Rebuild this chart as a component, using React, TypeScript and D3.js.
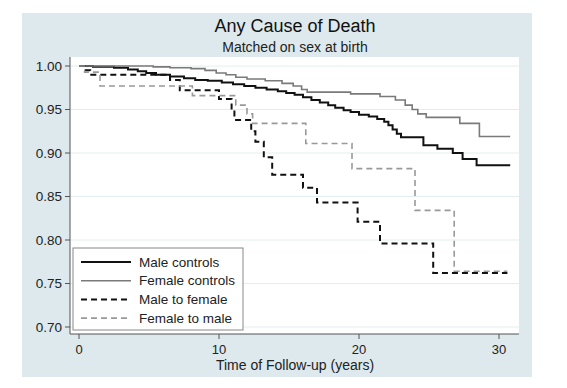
import React from 'react';
import * as d3 from 'd3';

// Kaplan-Meier steps: [years, survival]
const maleControls: [number, number][] = [
  [0, 1.0], [1.0, 0.999], [2.5, 0.998], [3.5, 0.996], [4.2, 0.994], [4.8, 0.992],
  [5.5, 0.99], [6.5, 0.988], [7.5, 0.986], [8.3, 0.984], [9.2, 0.983], [10.2, 0.981],
  [11.0, 0.979], [11.8, 0.977], [12.6, 0.975], [13.4, 0.973], [14.2, 0.971], [14.8, 0.969],
  [15.4, 0.967], [16.0, 0.964], [16.6, 0.961], [17.2, 0.958], [17.8, 0.955], [18.3, 0.952],
  [18.9, 0.949], [19.4, 0.947], [20.0, 0.944], [20.7, 0.942], [21.3, 0.939], [21.8, 0.936],
  [22.1, 0.932], [22.4, 0.927], [22.7, 0.922], [23.0, 0.918], [24.6, 0.909], [25.6, 0.905],
  [26.7, 0.9], [27.4, 0.893], [28.4, 0.886], [30.8, 0.886],
];
const femaleControls: [number, number][] = [
  [0, 1.0], [5.3, 0.999], [6.5, 0.998], [8.0, 0.997], [9.0, 0.995], [9.8, 0.992],
  [10.5, 0.99], [11.2, 0.987], [12.0, 0.985], [13.3, 0.983], [14.5, 0.98], [15.3, 0.977],
  [15.9, 0.973], [16.3, 0.97], [19.4, 0.968], [21.5, 0.965], [22.6, 0.961], [23.3, 0.955],
  [23.8, 0.95], [24.2, 0.945], [24.8, 0.941], [27.2, 0.934], [28.6, 0.919], [30.8, 0.919],
];
const maleToFemale: [number, number][] = [
  [0, 1.0], [0.4, 0.995], [0.8, 0.99], [6.5, 0.984], [7.2, 0.972], [10.0, 0.962],
  [10.9, 0.95], [11.1, 0.938], [12.3, 0.925], [12.6, 0.913], [13.2, 0.895], [13.8, 0.875],
  [16.0, 0.86], [17.0, 0.843], [19.9, 0.821], [21.5, 0.796], [25.3, 0.762], [30.6, 0.762],
];
const femaleToMale: [number, number][] = [
  [0, 1.0], [0.4, 0.993], [1.5, 0.977], [8.1, 0.966], [11.2, 0.955], [12.0, 0.945],
  [12.4, 0.934], [16.2, 0.911], [19.5, 0.882], [24.0, 0.834], [26.8, 0.764], [30.6, 0.764],
];

const xTicks = [0, 10, 20, 30];
const yTicks = [0.7, 0.75, 0.8, 0.85, 0.9, 0.95, 1.0];

const series = [
  { name: 'Male controls', data: maleControls, color: '#111', width: 2, dash: null },
  { name: 'Female controls', data: femaleControls, color: '#7a7a7a', width: 1.6, dash: null },
  { name: 'Male to female', data: maleToFemale, color: '#111', width: 2, dash: '6,4' },
  { name: 'Female to male', data: femaleToMale, color: '#999', width: 1.6, dash: '6,4' },
];

const W = 567;
const H = 388;
const plot = { left: 70, right: 519, top: 57, bottom: 334 };
const font = 'Arial, "Liberation Sans", Helvetica, sans-serif';

export default function App() {
  const x = d3.scaleLinear().domain([0, 30]).range([79, 499]);
  const y = d3.scaleLinear().domain([0.7, 1.0]).range([327, 66]);
  const line = d3
    .line<[number, number]>()
    .x(d => x(d[0]))
    .y(d => y(d[1]))
    .curve(d3.curveStepAfter);

  return (
    <div style={{ position: 'fixed', left: 0, top: 0, background: '#fff' }}>
      <svg width={W} height={H} style={{ display: 'block', fontFamily: font }}>
        <rect x={0} y={0} width={W} height={H} fill="#fff" />
        <rect x={22} y={13} width={510} height={364} fill="#dde9ec" />
        <rect
          x={plot.left}
          y={plot.top}
          width={plot.right - plot.left}
          height={plot.bottom - plot.top}
          fill="#fff"
        />
        {yTicks.map(t => (
          <line
            key={'g' + t}
            x1={plot.left}
            x2={plot.right}
            y1={y(t)}
            y2={y(t)}
            stroke="#e3eef0"
            strokeWidth={1.2}
          />
        ))}

        {/* axes */}
        <line x1={plot.left} x2={plot.left} y1={plot.top} y2={plot.bottom} stroke="#555" />
        <line x1={plot.left} x2={plot.right} y1={plot.bottom} y2={plot.bottom} stroke="#555" />
        {yTicks.map(t => (
          <g key={'y' + t}>
            <line x1={plot.left - 5} x2={plot.left} y1={y(t)} y2={y(t)} stroke="#555" />
            <text x={plot.left - 8} y={y(t)} dy="0.35em" textAnchor="end" fontSize={13.5} fill="#222">
              {d3.format('.2f')(t)}
            </text>
          </g>
        ))}
        {xTicks.map(t => (
          <g key={'x' + t}>
            <line x1={x(t)} x2={x(t)} y1={plot.bottom} y2={plot.bottom + 5} stroke="#555" />
            <text x={x(t)} y={349} dy="0.35em" textAnchor="middle" fontSize={13} fill="#222">
              {t}
            </text>
          </g>
        ))}
        <text x={295} y={365} dy="0.35em" textAnchor="middle" fontSize={14} fill="#222">
          Time of Follow-up (years)
        </text>

        {/* titles */}
        <text x={295} y={26} dy="0.35em" textAnchor="middle" fontSize={18} fill="#111">
          Any Cause of Death
        </text>
        <text x={295} y={47} dy="0.35em" textAnchor="middle" fontSize={14} fill="#222">
          Matched on sex at birth
        </text>

        {/* curves */}
        {series.map(s => (
          <path
            key={s.name}
            d={line(s.data) || ''}
            fill="none"
            stroke={s.color}
            strokeWidth={s.width}
            strokeDasharray={s.dash || undefined}
          />
        ))}

        {/* legend */}
        <rect x={73} y={248} width={170} height={82} fill="#fff" stroke="#888" />
        {series.map((s, i) => {
          const ly = 262 + i * 18.7;
          return (
            <g key={'l' + s.name}>
              <line
                x1={81}
                x2={131}
                y1={ly}
                y2={ly}
                stroke={s.color}
                strokeWidth={s.width}
                strokeDasharray={s.dash || undefined}
              />
              <text x={139} y={ly} dy="0.35em" fontSize={13.5} fill="#222">
                {s.name}
              </text>
            </g>
          );
        })}
      </svg>
    </div>
  );
}
